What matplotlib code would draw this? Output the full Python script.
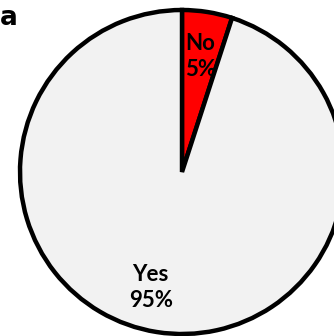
import matplotlib
matplotlib.use("Agg")
import matplotlib.pyplot as plt

labels = ["No", "Yes"]
shares = [5, 95]
colors = ["#ff0000", "#f2f2f2"]
label_shift = [0, -13]
panel = "a"

plt.rcParams['font.family'] = ['Lato', 'DejaVu Sans']

fig = plt.figure(figsize=(3.34, 3.36), dpi=100)
ax = fig.add_axes([0, 0, 1, 1])

texts = ["%s\n%d%%" % (l, s) for l, s in zip(labels, shares)]
wedges, txt = ax.pie(shares, labels=texts, colors=colors, startangle=90,
                     counterclock=False, center=(182, 164), radius=162,
                     labeldistance=0.72, frame=True,
                     wedgeprops=dict(edgecolor='black', linewidth=3.2),
                     textprops=dict(fontsize=16, fontweight='bold',
                                    ha='center', va='center', linespacing=1.3))
# nudge the labels sideways like the original layout
for t, dx in zip(txt, label_shift):
    x, y = t.get_position()
    t.set_position((x + dx, y))

ax.set_xlim(0, 334)
ax.set_ylim(0, 336)
ax.set_aspect('equal')
ax.axis('off')

fig.text(0.0, 0.985, panel, fontsize=19, fontweight='bold', ha='left', va='top',
         family='DejaVu Sans')

fig.savefig("out.png", dpi=100)
